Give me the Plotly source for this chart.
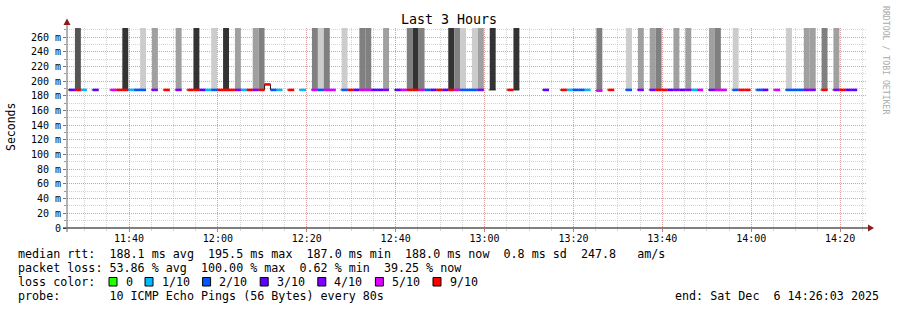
import plotly.graph_objects as go
import pandas as pd

# ---------------- data ----------------
day = "2025-12-06"
view_start = "2025-12-06 11:26:03"
view_end = "2025-12-06 14:26:03"
first_step = "2025-12-06 11:26:30"
step_seconds = 80

# packet loss per 80 s step, in tenths (10 = all lost, no median)
loss = [3, 8, 1, 10, 3, 10, 10, 5, 7, 9,
        1, 2, 2, 10, 4, 10, 7, 10, 4, 10,
        7, 9, 3, 1, 2, 7, 9, 7, 4, 1,
        7, 4, 6, 7, 2, 1, 10, 7, 10, 1,
        10, 5, 2, 5, 5, 10, 2, 7, 3, 5,
        5, 3, 3, 4, 10, 3, 5, 6, 9, 5,
        2, 3, 7, 3, 9, 5, 2, 2, 2, 4,
        10, 9.5, 10, 10, 7, 9.5, 10, 10, 10, 10,
        3, 10, 10, 7, 1, 2, 2, 1, 10, 5,
        10, 7, 10, 10, 2, 10, 4, 10, 4, 6,
        7, 3, 4, 3, 4, 1, 5, 10, 4, 5,
        5, 10, 2, 7, 7, 10, 2, 3, 10, 5,
        10, 2, 2, 2, 4, 4, 10, 6, 10, 4,
        7, 3, 3]

# median rtt in ms (None = no reply)
median_ms = [188.0 if l < 10 else None for l in loss]
median_ms[33] = 195.5
median_ms[89] = 187.0

# smoke density level per step (0 = none, 1 = densest/darkest ... 5 = lightest)
smoke_level = [0] * len(loss)
for k, lv in {1: 2, 9: 1, 12: 5, 14: 4, 18: 4, 21: 1, 24: 5, 26: 1, 28: 4, 31: 4,
              32: 3, 41: 3, 42: 5, 43: 3, 46: 5, 49: 3, 50: 3, 53: 4, 57: 3, 58: 1,
              59: 3, 64: 1, 65: 3, 66: 5, 68: 5, 69: 4, 71: 1, 75: 1, 89: 3, 94: 5,
              96: 4, 98: 4, 99: 3, 102: 4, 104: 4, 108: 4, 109: 3, 112: 5, 121: 5,
              124: 4, 125: 4, 127: 3, 129: 4}.items():
    smoke_level[k] = lv
smoke_top_ms = 300.0

x_tick_labels = ["11:40", "12:00", "12:20", "12:40", "13:00", "13:20", "13:40", "14:00", "14:20"]
y_tick_values = [0, 20, 40, 60, 80, 100, 120, 140, 160, 180, 200, 220, 240, 260]
y_tick_labels = ["0"] + [f"{v} m" for v in y_tick_values[1:]]

loss_labels = ["0", "1/10", "2/10", "3/10", "4/10", "5/10", "9/10"]
loss_thresholds = [0, 1, 2, 3, 4, 5, 9]
loss_colors = ["#26ff00", "#00b8ff", "#0059ff", "#5e00ff", "#7e00ff", "#dd00ff", "#ff0000"]

# ---------------- styling ----------------
smoke_colors = {1: "#333333", 2: "#555555", 3: "#808080", 4: "#a0a0a0", 5: "#cccccc"}
MONO = "DejaVu Sans Mono"
PX_L, PX_R, PX_T, PX_B = 67, 867, 28, 228


def px_x(p):
    return (p - PX_L) / (PX_R - PX_L)


def px_y(p):
    return (PX_B - p) / (PX_B - PX_T)


t0 = pd.Timestamp(first_step)
step = pd.Timedelta(seconds=step_seconds)
starts = [t0 + i * step for i in range(len(loss))]
ends = [s + step for s in starts]

fig = go.Figure()

# smoke bars
sx, sy, sb, sc = [], [], [], []
for i, lv in enumerate(smoke_level):
    if lv and median_ms[i] is not None:
        sx.append(starts[i] + step / 2)
        sb.append(median_ms[i])
        sy.append(smoke_top_ms - median_ms[i])
        sc.append(smoke_colors[lv])
fig.add_trace(go.Bar(x=sx, y=sy, base=sb, width=step_seconds * 1000,
                     marker=dict(color=sc, line=dict(width=0)), hoverinfo="skip"))

# thin dark median line (step)
bx, by = [], []
prev = None
for i, m in enumerate(median_ms):
    if m is None:
        if prev is not None:
            bx.append(ends[i - 1]); by.append(median_ms[i - 1])
            bx.append(None); by.append(None)
        prev = None
        continue
    if prev is None:
        bx.append(starts[i] - pd.Timedelta(seconds=14)); by.append(m)
    bx.append(starts[i]); by.append(m)
    prev = m
if prev is not None:
    bx.append(ends[len(median_ms) - 1]); by.append(median_ms[-1])
fig.add_trace(go.Scatter(x=bx, y=by, mode="lines", line=dict(color="#1a1a1a", width=1, shape="hv"),
                         hoverinfo="skip"))


def loss_index(l):
    prev_t = -1
    for j, th in enumerate(loss_thresholds):
        if prev_t < l <= th or (j == 0 and l <= th):
            return j
        prev_t = th
    return None


# coloured median bands by loss
for j, col in enumerate(loss_colors):
    xs, ys = [], []
    for i, m in enumerate(median_ms):
        if m is None:
            continue
        if loss_index(loss[i]) == j:
            xs += [starts[i], ends[i], None]
            ys += [m, m, None]
    if xs:
        fig.add_trace(go.Scatter(x=xs, y=ys, mode="lines", line=dict(color=col, width=2.6),
                                 hoverinfo="skip"))

major_grid = "rgba(235,60,60,0.35)"
minor_grid = "rgba(150,150,150,0.4)"

fig.update_xaxes(type="date", range=[view_start, view_end],
                 tickvals=[f"{day} {t}" for t in x_tick_labels], ticktext=x_tick_labels,
                 ticks="outside", ticklen=3, tickcolor="rgba(220,60,60,0.7)",
                 ticklabelstandoff=-2,
                 showgrid=True, gridcolor=major_grid, griddash="1px,1px", gridwidth=1,
                 minor=dict(dtick=300000, tick0=f"{day} 11:25:00", showgrid=True, gridcolor=minor_grid,
                            griddash="1px,1px", ticks="outside", ticklen=2, tickcolor=minor_grid),
                 showline=False, zeroline=False, automargin=False,
                 tickfont=dict(family=MONO, size=10, color="black"))
fig.update_yaxes(range=[0, 272.3], tickvals=y_tick_values, ticktext=y_tick_labels,
                 ticks="outside", ticklen=3, tickcolor="#777777",
                 showgrid=True, gridcolor=major_grid, griddash="1px,1px", gridwidth=1,
                 minor=dict(dtick=10, showgrid=True, gridcolor=minor_grid, griddash="1px,1px",
                            ticks="outside", ticklen=2, tickcolor="#999999"),
                 showline=False, zeroline=False, automargin=False,
                 tickfont=dict(family=MONO, size=10, color="black"))

shapes = []
# axes
shapes.append(dict(type="line", xref="paper", yref="paper", x0=px_x(63), x1=px_x(869), y0=0, y1=0,
                   line=dict(color="black", width=1), layer="above"))
shapes.append(dict(type="line", xref="paper", yref="paper", x0=0, x1=0, y0=px_y(232), y1=px_y(23),
                   line=dict(color="#666666", width=1), layer="above"))
# arrows
ax = [(67, 18.5), (63.5, 25), (70.5, 25)]
shapes.append(dict(type="path", xref="paper", yref="paper",
                   path="M{},{} L{},{} L{},{} Z".format(*[v for p in ax for v in (px_x(p[0]), px_y(p[1]))]),
                   fillcolor="#8b1a1a", line=dict(width=0), layer="above"))
ax = [(874, 228), (868, 224.5), (868, 231.5)]
shapes.append(dict(type="path", xref="paper", yref="paper",
                   path="M{},{} L{},{} L{},{} Z".format(*[v for p in ax for v in (px_x(p[0]), px_y(p[1]))]),
                   fillcolor="#8b1a1a", line=dict(width=0), layer="above"))

annotations = []


def text(px, py, s, size=11.8, anchor="left", color="black", angle=0):
    annotations.append(dict(xref="paper", yref="paper", x=px_x(px), y=px_y(py),
                            text=s.replace(" ", "\u00a0"), showarrow=False,
                            xanchor=anchor, yanchor="middle", textangle=angle,
                            font=dict(family=MONO, size=size, color=color)))


text(448.5, 20, "Last 3 Hours", size=13.3, anchor="center")
text(11, 127, "Seconds", size=11.5, anchor="center", angle=-90)
text(886, 60, "RRDTOOL / TOBI OETIKER", size=8.2, anchor="center", color="#aaaaaa", angle=90)

text(15.5, 254, "median rtt:  188.1 ms avg  195.5 ms max  187.0 ms min  188.0 ms now  0.8 ms sd  247.8   am/s", size=11.7)
text(15.5, 268, "packet loss: 53.86 % avg  100.00 % max  0.62 % min  39.25 % now", size=11.7)
text(15.5, 282, "loss color:", size=11.7)
text(15.5, 296, "probe:       10 ICMP Echo Pings (56 Bytes) every 80s", size=11.7)
text(881, 296, "end: Sat Dec  6 14:26:03 2025", anchor="right", size=11.7)

# loss colour legend
cw = 7.2
bx0 = 109
for lab, col in zip(loss_labels, loss_colors):
    shapes.append(dict(type="rect", xref="paper", yref="paper",
                       x0=px_x(bx0), x1=px_x(bx0 + 8), y0=px_y(286), y1=px_y(277.5),
                       fillcolor=col, line=dict(color="black", width=1), layer="above"))
    text(bx0 + 14.5, 282, lab, size=11.7)
    bx0 += (len(lab) + 4) * cw

fig.update_layout(width=897, height=310, margin=dict(l=PX_L, r=897 - PX_R, t=PX_T, b=310 - PX_B, pad=0,
                                                    autoexpand=False),
                  paper_bgcolor="white", plot_bgcolor="white", showlegend=False, barmode="overlay",
                  shapes=shapes, annotations=annotations, font=dict(family=MONO, size=10, color="black"))

fig.write_html("out.html")
